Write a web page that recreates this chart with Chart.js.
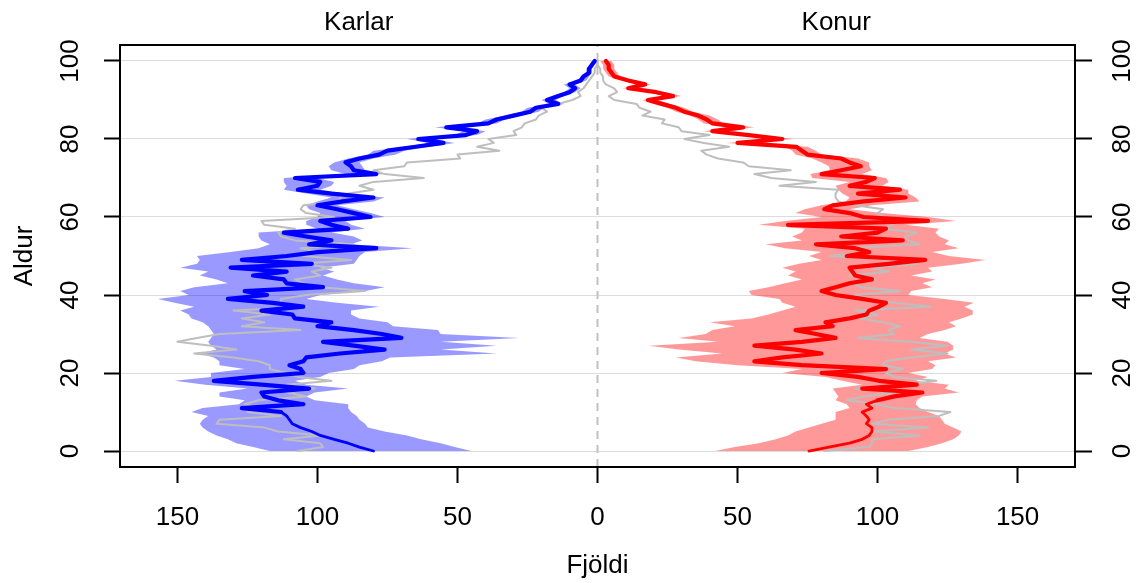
<!DOCTYPE html>
<html><head><meta charset="utf-8">
<script src="https://cdn.jsdelivr.net/npm/chart.js@4/dist/chart.umd.min.js"></script>
<style>html,body{margin:0;padding:0;background:#fff}canvas{display:block}</style>
</head><body>
<canvas id="c" width="1144" height="583"></canvas>
<script>
// ---- data ----
const ages = Array.from({length: 101}, (_, i) => i);
const panelTitles = ['Karlar', 'Konur'];
const xTitle = 'Fjöldi';
const yTitle = 'Aldur';
const xTicks = [-150, -100, -50, 0, 50, 100, 150];
const yTicks = [0, 20, 40, 60, 80, 100];

// Karlar (men): median, lower band, upper band, observed (grey)
const menMedian = [80,85,89,94,99,102,106,109,110,111,113,127,105,114,119,120,103,120,137,123,
  105,106,110,105,104,92,76,87,98,70,77,87,100,95,108,109,120,105,116,132,
  118,126,98,111,112,123,111,131,102,127,111,100,79,103,95,104,112,89,95,99,
  81,87,93,100,91,80,95,107,100,99,108,79,87,88,90,85,78,75,65,55,
  64,47,43,54,39,36,30,24,22,14,18,14,10,8,10,6,5,3,3,2,1];
const menLow = [45,51,56,63,68,76,82,83,85,86,88,89,89,101,104,101,89,104,108,99,
  96,87,85,77,74,36,56,36,56,28,56,57,73,75,85,88,88,78,93,104,
  99,83,76,87,93,98,94,99,87,86,85,83,66,88,84,87,95,83,88,90,
  76,81,87,93,80,76,90,99,95,94,100,76,83,84,85,80,72,69,60,51,
  59,43,40,50,36,33,27,21,19,12,15,12,8,6,8,4,3,2,2,1,0];
const menHigh = [117,123,129,132,136,139,141,142,141,139,145,141,128,126,135,135,125,140,151,138,
  138,126,135,135,137,142,136,138,139,138,137,138,139,141,145,146,149,144,151,157,
  146,149,144,132,136,142,139,149,143,142,143,131,121,117,120,121,121,100,104,104,
  100,99,103,104,100,95,104,112,111,112,112,90,95,96,94,89,82,80,69,60,
  68,51,48,58,43,40,33,27,25,17,20,16,12,10,12,7,6,4,4,3,2];
const menObserved = [107,98,99,112,99,114,119,136,135,113,125,120,126,121,104,111,101,111,95,107,
  111,117,117,121,130,144,129,138,150,143,135,106,127,119,127,117,130,104,113,113,
  104,83,99,105,108,99,102,95,106,88,105,99,106,87,108,113,114,108,119,120,
  94,104,106,105,92,92,89,80,85,80,62,76,80,69,68,49,50,35,43,37,
  39,29,30,27,26,22,21,18,20,14,9,6,7,5,4,3,2,1,1,0,0];

// Konur (women): median, lower band, upper band, observed (grey)
const womenMedian = [75.5,82.6,90,94.5,97,98,98,96,97,96,94.5,98,96,100,106,116,94.5,114,100.5,93,
  80,103,73,56,66,80,70.7,56,73,85,78,70.7,84,81.4,90,96,97,100.5,103,94.5,
  85,80,85,90,98,92,91,90,104,117,89,97,92,78,109,87,100,103,68,118,
  95,90,81,84,95,110,93,108,90,96,99,80,87,94,90,87,75,73,71,50,
  66,54,41,52,41,39,36,31,28,23,18,27,21,11,17,11,6,5,4,4,3];
const womenLow = [42,49,57.6,63.6,68,70.7,75.5,80,85,85,85,90,89,85,86,85,84,94.5,87.4,81.4,
  66,73,50,35,28,44.5,29,18.3,43,29,38.6,41,49,40,55,61,66,70.7,66,65,
  55,54,61,67,73,68,70.7,66,72,80,75.5,80,67,60,73,69.5,73,74,57.6,67,
  80,70.7,74,80,88.6,90,87.4,86,85,90,76.7,76,83,82.6,80,76.7,70.7,69.5,67,46,
  62,50,38,48,38,36,33,28,25,20,16,24,18,9,14,9,4,3,2,2,1];
const womenHigh = [111,118,123,127,129,130,127,124,123,122,118,115,113.6,114,116,129,124,125.5,113.6,118,
  111,119.5,120.7,118,128,124,127,127,125,115,118,124,128,125.5,130,134,134,131,134.4,124,
  111,112,119.5,116,120.7,112,119.5,118,130,138.6,125.5,119.5,129,124,125.5,122,120.7,122,110,128,
  118,101.7,90,98,115,113.6,111,111,101.7,104,103,94.5,98,97,97,93,80,78,75,54,
  70,58,45,56,45,43,40,34,31,26,21,30,24,14,19,13,8,7,6,6,5];
const womenObserved = [81,97,98,98,115,98,118,98,104,122,126,106,100,89,95,106,92,111,121,106,
  103,109,102,103,112,125,112,125,112,93,106,104,108,102,94,100,92,119,106,97,
  92,108,94,91,99,90,104,98,114,106,83,97,89,115,111,110,114,102,105,107,
  102,100,102,92,86,85,85,86,65,78,62,56,69,54,52,43,39,37,47,38,
  31,40,30,29,23,24,16,19,15,14,6,4,7,6,3,2,2,1,1,0,0];

// ---- build points through the scales ----
const left = arr => ages.map((a, i) => ({x: -arr[i], y: a}));
const right = arr => ages.map((a, i) => ({x: arr[i], y: a}));

const BLUE = '#0000ff', RED = '#ff0000', GREY = '#bebebe';
const FONT = '"Liberation Sans", Arial, Helvetica, sans-serif';
const FSIZE = 26;
Chart.defaults.font.family = FONT;

const lineBase = {pointRadius: 0, pointHoverRadius: 0, tension: 0, borderCapStyle: 'round', borderJoinStyle: 'round'};

const datasets = [
  {...lineBase, data: left(menLow), borderWidth: 0, fill: '+1', backgroundColor: 'rgba(0,0,255,0.4)', order: 3},
  {...lineBase, data: left(menHigh), borderWidth: 0, fill: false, order: 3},
  {...lineBase, data: right(womenLow), borderWidth: 0, fill: '+1', backgroundColor: 'rgba(255,0,0,0.4)', order: 3},
  {...lineBase, data: right(womenHigh), borderWidth: 0, fill: false, order: 3},
  {...lineBase, data: left(menObserved), borderColor: GREY, borderWidth: 2, fill: false, order: 2},
  {...lineBase, data: right(womenObserved), borderColor: GREY, borderWidth: 2, fill: false, order: 2},
  {...lineBase, data: left(menMedian), borderColor: BLUE, borderWidth: 4.2, fill: false, order: 1,
    segment: {borderWidth: c => c.p0DataIndex < 10 ? 2.8 : 4.2}},
  {...lineBase, data: right(womenMedian), borderColor: RED, borderWidth: 4.2, fill: false, order: 1,
    segment: {borderWidth: c => c.p0DataIndex < 13 ? 2.8 : 4.2}},
  {...lineBase, data: [{x: 0, y: -4.1}, {x: 0, y: 104.1}], borderColor: '#c0c0c0', borderWidth: 2,
    borderDash: [8, 6], borderCapStyle: 'butt', fill: false, order: 5}
];

const textPlugin = {
  id: 'texts',
  afterDraw(chart) {
    const {ctx, chartArea: a, scales} = chart;
    ctx.save();
    ctx.strokeStyle = '#000';
    ctx.lineWidth = 2;
    ctx.strokeRect(a.left, a.top, a.right - a.left, a.bottom - a.top);
    ctx.fillStyle = '#000';
    ctx.font = FSIZE + 'px ' + FONT;
    ctx.textAlign = 'center';
    ctx.textBaseline = 'middle';
    const x0 = scales.x.getPixelForValue(0);
    ctx.fillText(panelTitles[0], (a.left + x0) / 2, a.top - 22);
    ctx.fillText(panelTitles[1], (x0 + a.right) / 2, a.top - 22);
    ctx.fillText(xTitle, (a.left + a.right) / 2, a.bottom + 99);
    const rot = (txt, x, y) => {
      ctx.save(); ctx.translate(x, y); ctx.rotate(-Math.PI / 2); ctx.fillText(txt, 0, 0); ctx.restore();
    };
    for (const t of yTicks) {
      const py = scales.y.getPixelForValue(t);
      rot(String(t), a.left - 49, py);
      rot(String(t), a.right + 48, py);
    }
    rot(yTitle, 25, (a.top + a.bottom) / 2);
    ctx.restore();
  }
};

new Chart(document.getElementById('c'), {
  type: 'line',
  data: {datasets},
  options: {
    responsive: false,
    animation: false,
    indexAxis: 'y',
    layout: {padding: {top: 45, left: 0, right: 0, bottom: 0}},
    plugins: {legend: {display: false}, tooltip: {enabled: false}, filler: {propagate: false}},
    scales: {
      x: {
        type: 'linear', position: 'bottom', min: -170.5, max: 170.5,
        afterBuildTicks: s => { s.ticks = xTicks.map(v => ({value: v})); },
        afterFit: s => { s.height = 116; },
        ticks: {autoSkip: false, maxRotation: 0, minRotation: 0, color: '#000', padding: 19,
          font: {size: FSIZE, family: FONT}, callback: v => String(Math.abs(v))},
        grid: {drawOnChartArea: false, drawTicks: true, tickLength: 16, tickColor: '#000', tickWidth: 2},
        border: {display: false}
      },
      y: {
        type: 'linear', position: 'left', min: -4.1, max: 104.1,
        afterBuildTicks: s => { s.ticks = yTicks.map(v => ({value: v})); },
        afterFit: s => { s.width = 120; },
        ticks: {display: false},
        grid: {color: '#dcdcdc', lineWidth: 1, drawTicks: true, tickLength: 16, tickColor: '#000', tickWidth: 2},
        border: {display: false}
      },
      y2: {
        type: 'linear', position: 'right', min: -4.1, max: 104.1,
        afterBuildTicks: s => { s.ticks = yTicks.map(v => ({value: v})); },
        afterFit: s => { s.width = 69; },
        ticks: {display: false},
        grid: {drawOnChartArea: false, drawTicks: true, tickLength: 17, tickColor: '#000', tickWidth: 2},
        border: {display: false}
      }
    }
  },
  plugins: [textPlugin]
});
</script>
</body></html>
